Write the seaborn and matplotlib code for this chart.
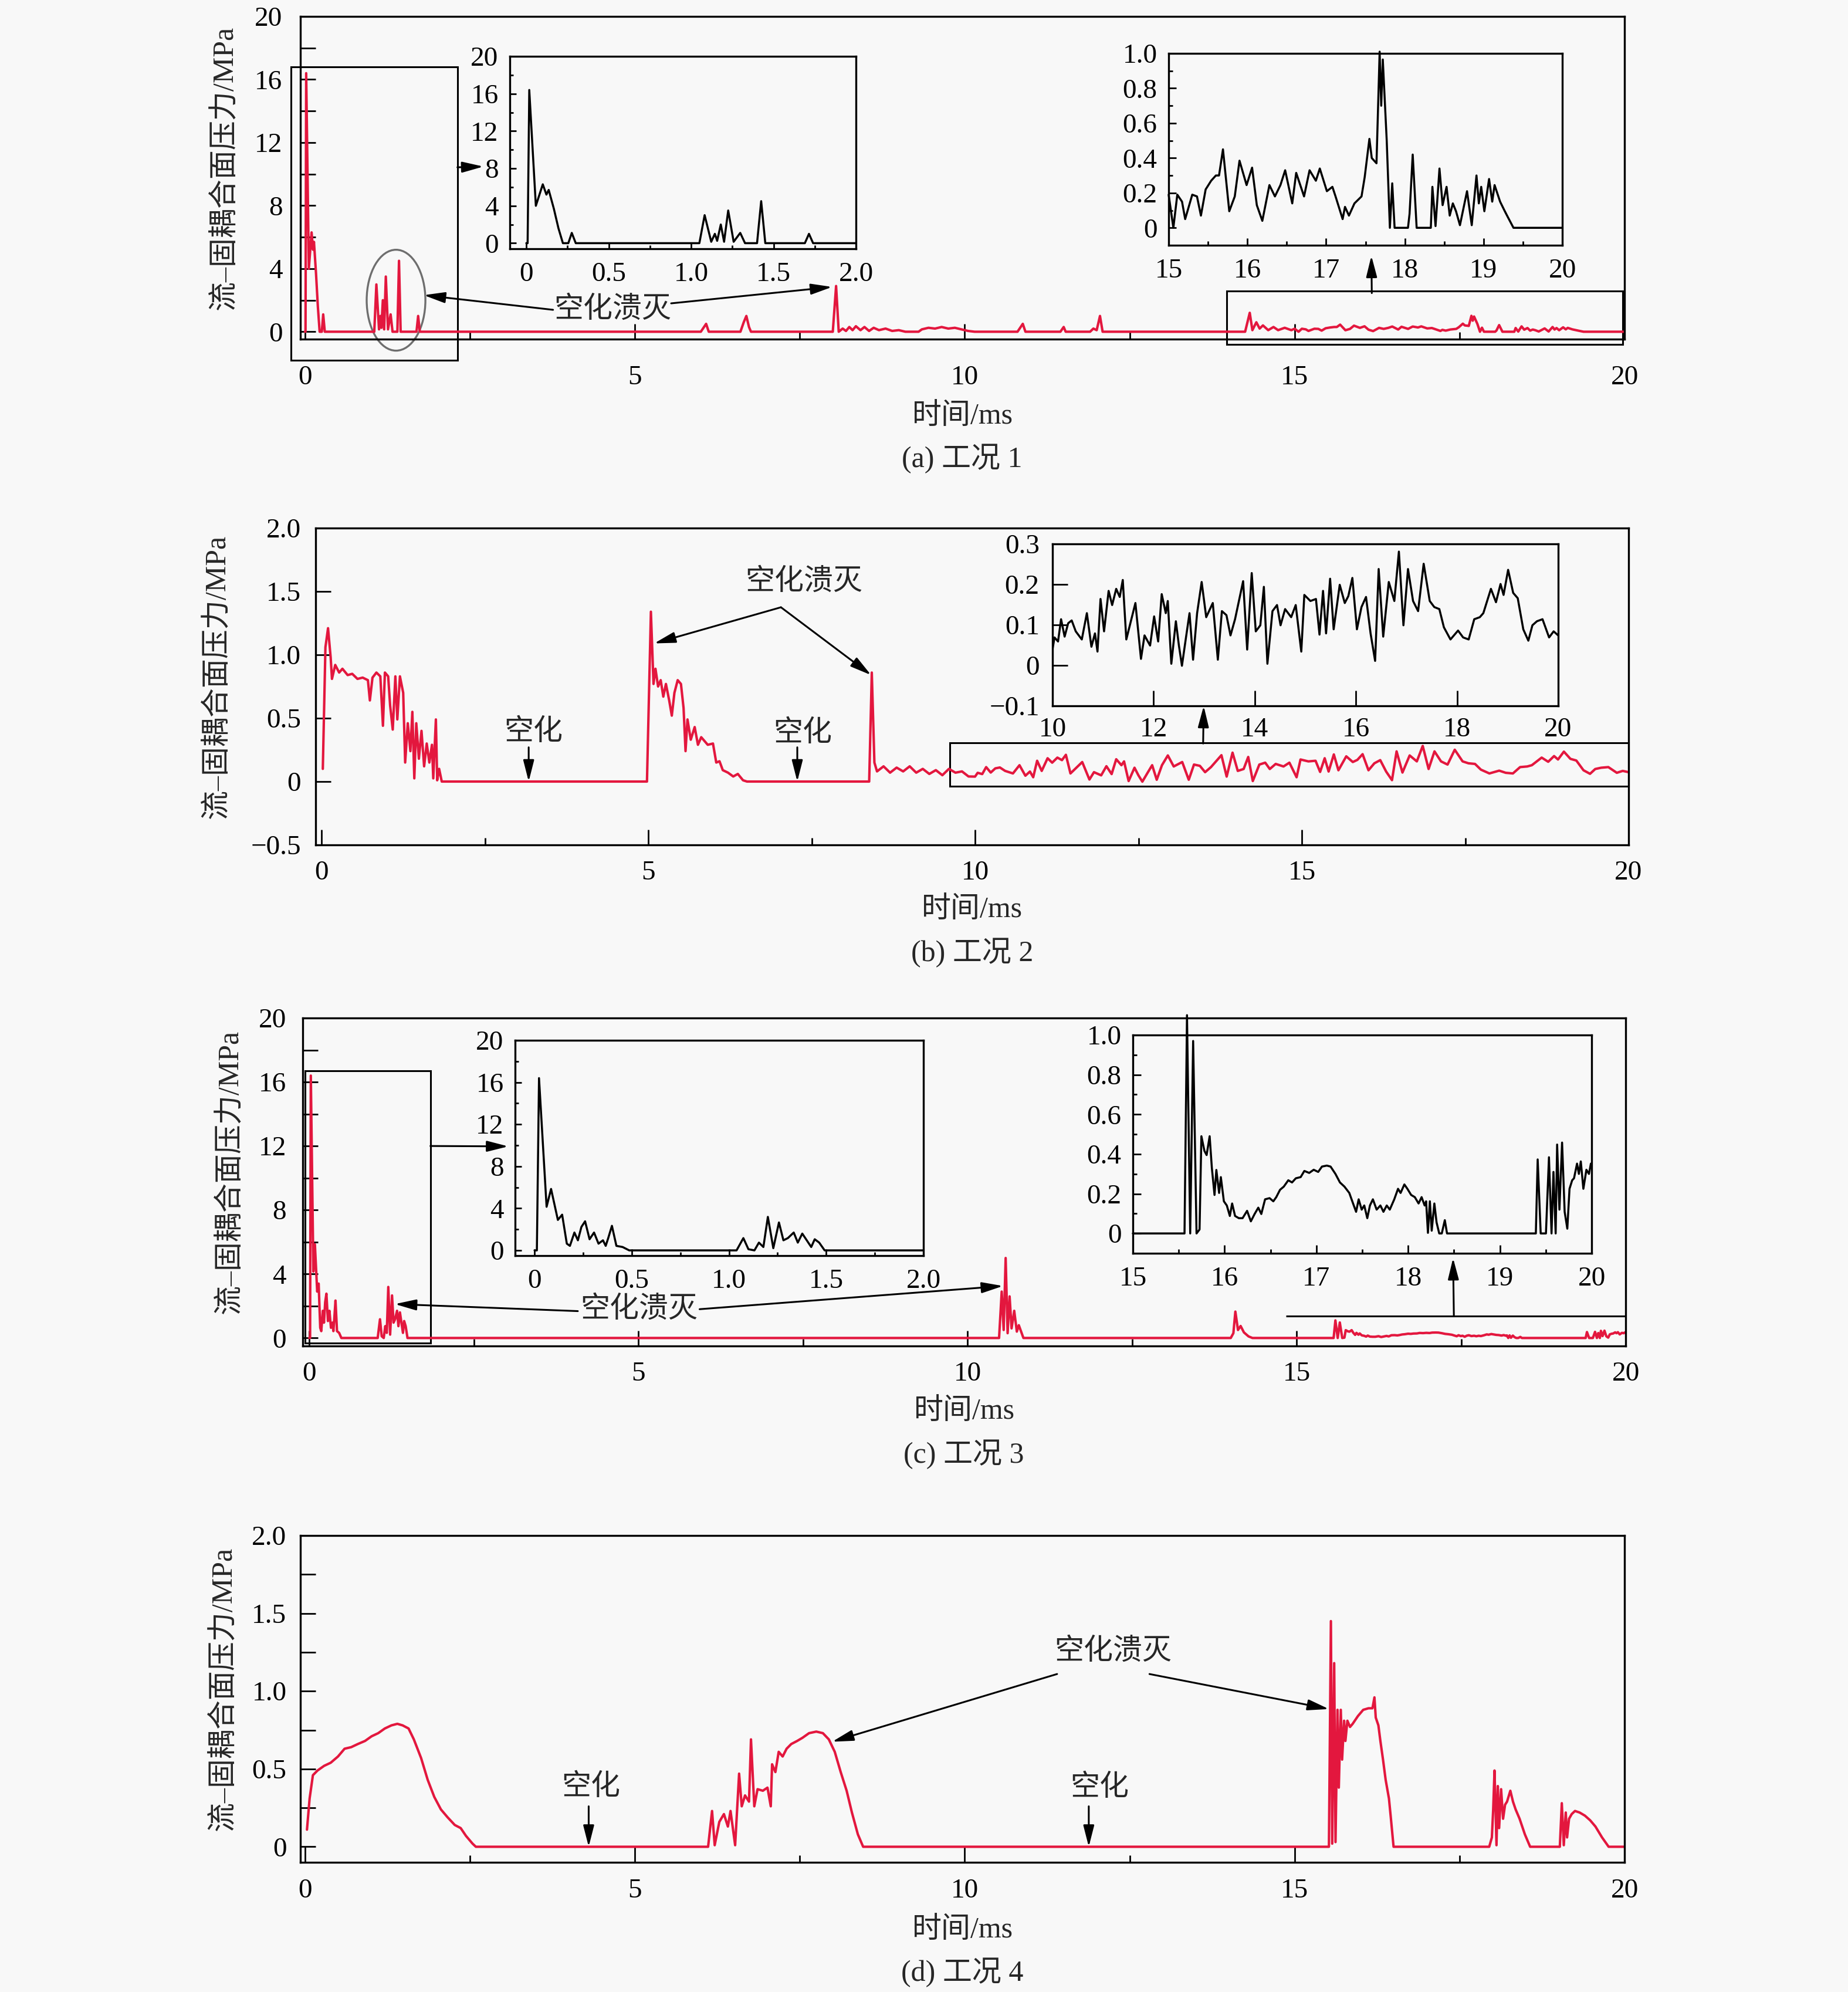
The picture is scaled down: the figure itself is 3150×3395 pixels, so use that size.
import matplotlib
matplotlib.use("Agg")
import matplotlib.pyplot as plt
import pandas as pd
import seaborn as sns
from matplotlib.patches import Rectangle, Ellipse

# ---------------- data (time in ms, pressure in MPa) ----------------
# case 1: zoomed segment 0-2 ms (inset 1)
A_EARLY = [(0.000, 0.0), (0.008, 0.0), (0.018, 16.4), (0.058, 4.0), (0.100, 6.3), (0.122, 5.2),
           (0.136, 5.7), (0.167, 3.7), (0.195, 1.6), (0.222, 0.0), (0.255, 0.0), (0.276, 1.1),
           (0.300, 0.0), (1.050, 0.0), (1.082, 3.0), (1.122, 0.15), (1.144, 1.0), (1.158, 0.25),
           (1.180, 2.0), (1.200, 0.15), (1.225, 3.5), (1.258, 0.15), (1.298, 1.1), (1.327, 0.0),
           (1.400, 0.0), (1.425, 4.5), (1.450, 0.0), (1.690, 0.0), (1.715, 1.0), (1.740, 0.0),
           (2.000, 0.0)]
# case 1: 2-15 ms
A_MID = [(6.00, 0), (6.08, 0.5), (6.12, 0), (6.60, 0), (6.65, 0.6), (6.69, 1.0), (6.73, 0.3),
         (6.76, 0), (8.00, 0), (8.05, 2.9), (8.09, 0), (8.15, 0.2), (8.20, 0.05), (8.25, 0.3),
         (8.30, 0.1), (8.35, 0.35), (8.42, 0.1), (8.48, 0.3), (8.55, 0.05), (8.62, 0.25),
         (8.70, 0.1), (8.80, 0.2), (8.90, 0.05), (9.00, 0.1), (9.10, 0), (9.30, 0), (9.35, 0.15),
         (9.45, 0.25), (9.55, 0.2), (9.65, 0.3), (9.75, 0.2), (9.85, 0.25), (9.95, 0.15),
         (10.05, 0.05), (10.15, 0), (10.80, 0), (10.88, 0.5), (10.92, 0), (11.45, 0), (11.50, 0.3),
         (11.53, 0), (11.90, 0), (11.95, 0.2), (12.00, 0.1), (12.05, 1.0), (12.09, 0), (14.25, 0),
         (14.32, 1.2), (14.36, 0.1), (14.42, 0.6), (14.47, 0.2), (14.52, 0.4), (14.60, 0.1),
         (14.68, 0.3), (14.75, 0.1), (14.85, 0.25), (14.95, 0.1)]
# case 1: zoomed segment 15-20 ms (inset 2)
A_LATE = [(15.00, 0.19), (15.03, 0.095), (15.06, 0.0), (15.11, 0.19), (15.17, 0.15), (15.21, 0.05),
          (15.30, 0.19), (15.36, 0.18), (15.41, 0.07), (15.47, 0.22), (15.54, 0.27), (15.60, 0.30),
          (15.64, 0.30), (15.69, 0.45), (15.77, 0.095), (15.84, 0.18), (15.90, 0.385), (15.99, 0.245),
          (16.06, 0.345), (16.12, 0.13), (16.19, 0.04), (16.28, 0.245), (16.35, 0.18), (16.42, 0.245),
          (16.48, 0.33), (16.57, 0.14), (16.62, 0.315), (16.72, 0.18), (16.79, 0.33), (16.87, 0.27),
          (16.92, 0.34), (17.01, 0.21), (17.08, 0.235), (17.12, 0.18), (17.21, 0.05), (17.24, 0.12),
          (17.29, 0.07), (17.36, 0.14), (17.45, 0.18), (17.49, 0.29), (17.55, 0.51), (17.58, 0.40),
          (17.64, 0.37), (17.68, 1.01), (17.70, 0.70), (17.72, 0.965), (17.77, 0.50), (17.81, 0.0),
          (17.84, 0.255), (17.87, 0.0), (18.04, 0.0), (18.06, 0.08), (18.10, 0.42), (18.15, 0.0),
          (18.33, 0.0), (18.35, 0.235), (18.39, 0.01), (18.44, 0.34), (18.48, 0.13), (18.53, 0.235),
          (18.57, 0.07), (18.61, 0.14), (18.65, 0.095), (18.70, 0.015), (18.79, 0.21), (18.85, 0.015),
          (18.91, 0.30), (18.94, 0.14), (18.97, 0.235), (19.01, 0.095), (19.07, 0.28), (19.11, 0.15),
          (19.14, 0.245), (19.21, 0.15), (19.27, 0.095), (19.31, 0.06), (19.38, 0.0), (20.00, 0.0)]

# case 2: 0-10 ms
B_EARLY = [(0.02, 0.10), (0.06, 1.06), (0.10, 1.21), (0.14, 0.98), (0.16, 0.81), (0.21, 0.92),
           (0.27, 0.86), (0.32, 0.89), (0.40, 0.84), (0.47, 0.85), (0.55, 0.81), (0.63, 0.82),
           (0.71, 0.80), (0.74, 0.64), (0.78, 0.82), (0.84, 0.86), (0.90, 0.83), (0.94, 0.44),
           (0.97, 0.86), (1.02, 0.83), (1.05, 0.60), (1.09, 0.41), (1.13, 0.83), (1.16, 0.49),
           (1.20, 0.83), (1.25, 0.70), (1.28, 0.15), (1.32, 0.46), (1.36, 0.24), (1.39, 0.55),
           (1.42, 0.025), (1.45, 0.46), (1.49, 0.18), (1.53, 0.40), (1.57, 0.12), (1.61, 0.30),
           (1.65, 0.15), (1.69, 0.29), (1.71, 0.025), (1.75, 0.49), (1.77, 0.01), (1.80, 0.10),
           (1.84, 0.0), (4.98, 0.0), (5.04, 1.34), (5.08, 0.77), (5.11, 0.89), (5.15, 0.75),
           (5.19, 0.80), (5.23, 0.67), (5.27, 0.77), (5.32, 0.64), (5.36, 0.52), (5.40, 0.70),
           (5.45, 0.80), (5.50, 0.77), (5.54, 0.58), (5.57, 0.24), (5.60, 0.49), (5.65, 0.33),
           (5.71, 0.43), (5.76, 0.29), (5.81, 0.35), (5.86, 0.32), (5.91, 0.29), (5.99, 0.30),
           (6.04, 0.15), (6.09, 0.16), (6.14, 0.09), (6.22, 0.07), (6.30, 0.04), (6.37, 0.06),
           (6.45, 0.01), (6.51, 0.0), (8.38, 0.0), (8.42, 0.86), (8.46, 0.15), (8.50, 0.08),
           (8.60, 0.12), (8.70, 0.07), (8.80, 0.11), (8.90, 0.08), (9.00, 0.12), (9.10, 0.07),
           (9.20, 0.10), (9.30, 0.06), (9.40, 0.09), (9.50, 0.05), (9.60, 0.10), (9.70, 0.07),
           (9.80, 0.08), (9.90, 0.04)]
# case 2: zoomed segment 10-20 ms (inset)
B_LATE = [(10.00, 0.039), (10.04, 0.069), (10.11, 0.059), (10.17, 0.114), (10.24, 0.071), (10.31, 0.104),
          (10.38, 0.111), (10.46, 0.084), (10.58, 0.064), (10.68, 0.129), (10.77, 0.046), (10.84, 0.079),
          (10.89, 0.034), (10.95, 0.164), (11.02, 0.084), (11.11, 0.184), (11.18, 0.149), (11.26, 0.189),
          (11.33, 0.169), (11.39, 0.211), (11.46, 0.064), (11.55, 0.109), (11.64, 0.154), (11.75, 0.016),
          (11.82, 0.074), (11.93, 0.049), (12.01, 0.121), (12.09, 0.059), (12.16, 0.176), (12.24, 0.129),
          (12.28, 0.159), (12.35, 0.004), (12.44, 0.109), (12.50, 0.049), (12.56, -0.001), (12.64, 0.069),
          (12.71, 0.129), (12.78, 0.014), (12.86, 0.129), (12.95, 0.206), (13.04, 0.119), (13.17, 0.154),
          (13.27, 0.014), (13.35, 0.134), (13.44, 0.124), (13.52, 0.074), (13.61, 0.114), (13.77, 0.208),
          (13.85, 0.039), (13.94, 0.228), (14.02, 0.084), (14.11, 0.099), (14.18, 0.194), (14.25, 0.004),
          (14.35, 0.134), (14.44, 0.149), (14.51, 0.099), (14.60, 0.139), (14.72, 0.119), (14.81, 0.149),
          (14.92, 0.034), (14.98, 0.174), (15.10, 0.159), (15.21, 0.164), (15.28, 0.076), (15.35, 0.184),
          (15.41, 0.079), (15.49, 0.214), (15.56, 0.089), (15.68, 0.199), (15.78, 0.154), (15.85, 0.171),
          (15.93, 0.216), (16.02, 0.089), (16.11, 0.144), (16.20, 0.169), (16.29, 0.079), (16.38, 0.011),
          (16.45, 0.238), (16.54, 0.071), (16.65, 0.206), (16.76, 0.159), (16.85, 0.281), (16.94, 0.099),
          (17.03, 0.238), (17.13, 0.159), (17.23, 0.134), (17.34, 0.251), (17.46, 0.159), (17.55, 0.144),
          (17.65, 0.139), (17.74, 0.094), (17.87, 0.064), (18.02, 0.086), (18.12, 0.069), (18.23, 0.064),
          (18.34, 0.114), (18.45, 0.119), (18.52, 0.129), (18.67, 0.189), (18.77, 0.156), (18.86, 0.201),
          (18.92, 0.174), (19.01, 0.236), (19.11, 0.179), (19.20, 0.166), (19.31, 0.089), (19.41, 0.061),
          (19.49, 0.099), (19.58, 0.109), (19.69, 0.114), (19.82, 0.069), (19.91, 0.084), (20.00, 0.074)]

# case 3: zoomed segment 0-2 ms (inset 1)
C_EARLY = [(0.000, 0.0), (0.012, 0.0), (0.023, 16.4), (0.062, 4.15), (0.085, 5.85), (0.120, 2.9),
           (0.142, 3.4), (0.166, 0.64), (0.182, 0.43), (0.205, 1.7), (0.223, 0.96), (0.241, 2.23),
           (0.260, 2.77), (0.283, 1.06), (0.306, 1.70), (0.329, 0.64), (0.352, 0.96), (0.366, 0.43),
           (0.379, 1.17), (0.398, 2.34), (0.421, 0.43), (0.453, 0.32), (0.487, 0.0), (1.039, 0.0),
           (1.074, 1.17), (1.100, 0.11), (1.131, 0.0), (1.154, 0.74), (1.177, 0.32), (1.200, 3.19),
           (1.228, 0.21), (1.257, 2.66), (1.280, 0.96), (1.303, 1.17), (1.333, 1.70), (1.354, 0.74),
           (1.377, 1.60), (1.400, 0.96), (1.423, 0.32), (1.441, 1.06), (1.464, 0.74), (1.492, 0.0),
           (2.000, 0.0)]
# case 3: 2-15 ms
C_MID = [(10.48, 0), (10.52, 2.9), (10.55, 0.5), (10.58, 5.0), (10.61, 0.3), (10.64, 2.6),
         (10.67, 0.6), (10.71, 1.7), (10.75, 0.4), (10.78, 0.8), (10.85, 0), (14.00, 0),
         (14.04, 0.3), (14.07, 1.65), (14.11, 0.5), (14.15, 0.75), (14.20, 0.35), (14.27, 0.1),
         (14.33, 0)]
# case 3: zoomed segment 15-20 ms (inset 2)
C_LATE = [(15.000, 0.0), (15.563, 0.0), (15.590, 1.10), (15.625, 0.0), (15.657, 0.97), (15.694, 0.0),
          (15.727, 0.02), (15.747, 0.49), (15.780, 0.416), (15.804, 0.395), (15.837, 0.49), (15.861, 0.33),
          (15.890, 0.194), (15.910, 0.32), (15.940, 0.204), (15.959, 0.284), (15.992, 0.162), (16.024, 0.141),
          (16.057, 0.088), (16.082, 0.151), (16.114, 0.088), (16.155, 0.077), (16.196, 0.077), (16.245, 0.114),
          (16.286, 0.061), (16.327, 0.098), (16.367, 0.13), (16.400, 0.098), (16.441, 0.172), (16.490, 0.178),
          (16.531, 0.162), (16.563, 0.183), (16.604, 0.22), (16.645, 0.236), (16.694, 0.268), (16.735, 0.257),
          (16.776, 0.278), (16.829, 0.284), (16.869, 0.315), (16.922, 0.305), (16.971, 0.321), (17.020, 0.31),
          (17.061, 0.337), (17.114, 0.342), (17.155, 0.337), (17.208, 0.30), (17.257, 0.257), (17.306, 0.236),
          (17.359, 0.204), (17.400, 0.151), (17.433, 0.109), (17.461, 0.172), (17.494, 0.12), (17.522, 0.141),
          (17.555, 0.077), (17.584, 0.141), (17.616, 0.172), (17.657, 0.12), (17.698, 0.141), (17.731, 0.109),
          (17.767, 0.141), (17.800, 0.12), (17.849, 0.172), (17.890, 0.225), (17.918, 0.204), (17.959, 0.247),
          (17.992, 0.225), (18.033, 0.194), (18.073, 0.183), (18.114, 0.151), (18.147, 0.183), (18.180, 0.141),
          (18.196, 0.162), (18.216, 0.003), (18.237, 0.162), (18.257, 0.014), (18.286, 0.151), (18.310, 0.056),
          (18.339, 0.0), (18.367, 0.0), (18.400, 0.067), (18.424, 0.0), (19.392, 0.0), (19.412, 0.373),
          (19.445, 0.0), (19.502, 0.0), (19.535, 0.384), (19.563, 0.0), (19.584, 0.31), (19.608, 0.0),
          (19.624, 0.448), (19.649, 0.12), (19.678, 0.458), (19.706, 0.109), (19.735, 0.024), (19.759, 0.225),
          (19.788, 0.268), (19.808, 0.278), (19.841, 0.352), (19.861, 0.30), (19.882, 0.363), (19.910, 0.225),
          (19.943, 0.321), (19.971, 0.30), (19.992, 0.352)]

# case 4: 0-20 ms
D_ALL = [(0.03, 0.11), (0.07, 0.31), (0.12, 0.46), (0.19, 0.49), (0.29, 0.52), (0.39, 0.54),
         (0.50, 0.58), (0.60, 0.63), (0.70, 0.64), (0.80, 0.66), (0.91, 0.68), (1.01, 0.71),
         (1.11, 0.73), (1.21, 0.76), (1.31, 0.78), (1.40, 0.79), (1.48, 0.78), (1.57, 0.76),
         (1.65, 0.69), (1.76, 0.57), (1.86, 0.43), (1.96, 0.32), (2.06, 0.24), (2.16, 0.19),
         (2.27, 0.14), (2.36, 0.12), (2.44, 0.07), (2.54, 0.02), (2.59, 0.0), (6.11, 0.0),
         (6.17, 0.23), (6.21, 0.01), (6.28, 0.16), (6.35, 0.21), (6.41, 0.13), (6.45, 0.23),
         (6.52, 0.01), (6.58, 0.47), (6.62, 0.26), (6.67, 0.33), (6.73, 0.29), (6.76, 0.69),
         (6.81, 0.26), (6.86, 0.37), (6.94, 0.36), (7.01, 0.38), (7.06, 0.26), (7.08, 0.53),
         (7.13, 0.48), (7.18, 0.61), (7.24, 0.58), (7.30, 0.63), (7.37, 0.66), (7.46, 0.68),
         (7.54, 0.70), (7.64, 0.73), (7.75, 0.74), (7.85, 0.73), (7.94, 0.69), (8.03, 0.61),
         (8.12, 0.48), (8.21, 0.36), (8.29, 0.22), (8.38, 0.08), (8.46, 0.0), (15.52, 0.0),
         (15.55, 1.45), (15.57, 0.02), (15.60, 1.18), (15.62, 0.03), (15.65, 0.88), (15.67, 0.38),
         (15.70, 0.88), (15.72, 0.56), (15.75, 0.81), (15.77, 0.68), (15.80, 0.81), (15.84, 0.77),
         (15.88, 0.79), (15.96, 0.84), (16.04, 0.88), (16.12, 0.89), (16.18, 0.89), (16.21, 0.96),
         (16.23, 0.83), (16.27, 0.78), (16.30, 0.68), (16.34, 0.56), (16.38, 0.43), (16.43, 0.31),
         (16.46, 0.18), (16.50, 0.0), (17.95, 0.0), (17.99, 0.06), (18.01, 0.24), (18.03, 0.49),
         (18.06, 0.01), (18.08, 0.39), (18.10, 0.12), (18.13, 0.37), (18.16, 0.18), (18.19, 0.27),
         (18.22, 0.29), (18.27, 0.36), (18.31, 0.29), (18.35, 0.24), (18.41, 0.18), (18.49, 0.08),
         (18.57, 0.0), (19.02, 0.0), (19.05, 0.28), (19.08, 0.01), (19.11, 0.22), (19.13, 0.06),
         (19.16, 0.18), (19.20, 0.21), (19.25, 0.23), (19.32, 0.22), (19.40, 0.20), (19.48, 0.17),
         (19.56, 0.13), (19.66, 0.06), (19.76, 0.0), (20.00, 0.0)]

YLABEL = "流–固耦合面压力/MPa"
XLABEL = "时间/ms"
CAPTIONS = ["(a) 工况 1", "(b) 工况 2", "(c) 工况 3", "(d) 工况 4"]

# ---------------- style ----------------
sns.set_style("ticks")
plt.rcParams["font.family"] = ["Liberation Serif", "Noto Sans CJK SC"]
plt.rcParams["axes.unicode_minus"] = True

W, H = 3150, 3395
BG = "#f8f8f8"
RED = "#e3173e"
FS_TICK = 34
FS_TEXT = 36
LW_MAIN = 3.0
LW_INSET = 2.5
AP = dict(arrowstyle="-|>,head_length=1.1,head_width=0.28", lw=2.2, color="black",
          shrinkA=0, shrinkB=0, mutation_scale=20)

fig = plt.figure(figsize=(W / 100, H / 100), dpi=100, facecolor=BG)


def px_axes(l, r, t, b):
    ax = fig.add_axes([l / W, 1 - b / H, (r - l) / W, (b - t) / H])
    ax.set_facecolor(BG)
    return ax


def draw(ax, pts, color, lw):
    df = pd.DataFrame(pts, columns=["t", "p"])
    sns.lineplot(data=df, x="t", y="p", ax=ax, color=color, lw=lw,
                 estimator=None, sort=False, legend=False)
    ax.set_xlabel("")
    ax.set_ylabel("")
    return ax.lines[-1]


def labels(vals, dec):
    out = []
    for v in vals:
        if abs(v) < 1e-9:
            out.append("0")
        else:
            out.append(f"{v:.{dec}f}".replace("-", "\u2212"))
    return out


def style(ax, xlim, ylim, xmaj, xmin, ymaj, ymin, xdec, ydec, maj_len, xmin_len, ymin_len,
          xpad, ypad, spw=2.4):
    ax.set_xlim(xlim)
    ax.set_ylim(ylim)
    ax.set_xticks(xmaj)
    ax.set_xticklabels(labels(xmaj, xdec))
    ax.set_xticks(xmin, minor=True)
    ax.set_yticks(ymaj)
    ax.set_yticklabels(labels(ymaj, ydec))
    ax.set_yticks(ymin, minor=True)
    ax.tick_params(which="both", direction="in", top=False, right=False, width=2,
                   color="black", labelcolor="black")
    ax.tick_params(axis="x", which="major", length=maj_len, pad=xpad, labelsize=FS_TICK)
    ax.tick_params(axis="x", which="minor", length=xmin_len)
    ax.tick_params(axis="y", which="major", length=maj_len, pad=ypad, labelsize=FS_TICK)
    ax.tick_params(axis="y", which="minor", length=ymin_len)
    for s in ax.spines.values():
        s.set_visible(True)
        s.set_linewidth(spw)
        s.set_color("black")


def main_labels(ax, ylx, xly):
    ax.set_ylabel(YLABEL, fontsize=FS_TEXT)
    ax.yaxis.set_label_coords(ylx, 0.53)
    ax.set_xlabel(XLABEL, fontsize=FS_TEXT)
    ax.xaxis.label.set_va("center")
    ax.xaxis.set_label_coords(0.5, xly)


X_MAJ = [0, 5, 10, 15, 20]
X_MIN = [2.5, 7.5, 12.5, 17.5]

# ================= (a) =================
axA = px_axes(512, 2769, 28, 578)
draw(axA, A_EARLY + A_MID + A_LATE, RED, LW_MAIN)
style(axA, (-0.07, 20), (-0.47, 20), X_MAJ, X_MIN, [0, 4, 8, 12, 16, 20], [2, 6, 10, 14, 18],
      0, 0, 19, 9, 19, 32, 22)
main_labels(axA, -0.0465, -0.24)
fig.text(1640 / W, 1 - 782 / H, CAPTIONS[0], ha="center", va="center", fontsize=FS_TEXT)
axA.add_patch(Rectangle((-0.21, -1.8), 2.52, 18.6, fill=False, ec="black", lw=2.2, clip_on=False))
axA.add_patch(Rectangle((13.97, -0.8), 6.0, 3.38, fill=False, ec="black", lw=2.2, clip_on=False))
axA.add_patch(Ellipse((1.38, 2.0), 0.89, 6.4, fill=False, ec="#6e6e6e", lw=2.4, clip_on=False))
axA.text(4.66, 1.39, "空化溃灭", ha="center", va="center", fontsize=FS_TEXT)
axA.annotate("", xy=(1.80, 2.32), xytext=(3.76, 1.39), arrowprops=AP, annotation_clip=False)
axA.annotate("", xy=(7.99, 2.84), xytext=(5.55, 1.80), arrowprops=AP, annotation_clip=False)

axA1 = px_axes(869, 1459, 96, 424)
draw(axA1, A_EARLY, "black", LW_INSET)
style(axA1, (-0.1, 2.0), (-0.6, 20), [0, 0.5, 1.0, 1.5, 2.0], [0.25, 0.75, 1.25, 1.75],
      [0, 4, 8, 12, 16, 20], [2, 6, 10, 14, 18], 1, 0, 8, 4, 4, 16, 14)
axA1.annotate("", xy=(-0.26, 8.2), xycoords=axA1.transData, xytext=(2.31, 10.43),
              textcoords=axA.transData, arrowprops=AP, annotation_clip=False)

axA2 = px_axes(1992, 2663, 91, 418)
ln = draw(axA2, A_LATE, "black", LW_INSET)
ln.set_clip_on(False)
style(axA2, (15, 20), (-0.1, 1.0), [15, 16, 17, 18, 19, 20], [15.5, 16.5, 17.5, 18.5, 19.5],
      [0, 0.2, 0.4, 0.6, 0.8, 1.0], [0.1, 0.3, 0.5, 0.7, 0.9], 0, 1, 9, 5, 5, 16, 14)
axA2.annotate("", xy=(17.575, -0.16), xycoords=axA2.transData, xytext=(16.17, 2.45),
              textcoords=axA.transData, arrowprops=AP, annotation_clip=False)

# ================= (b) =================
axB = px_axes(538, 2776, 900, 1440)
draw(axB, B_EARLY + B_LATE, RED, LW_MAIN)
style(axB, (-0.09, 20), (-0.5, 2.0), X_MAJ, X_MIN, [-0.5, 0, 0.5, 1.0, 1.5, 2.0], [],
      0, 1, 19, 9, 19, 19, 18)
main_labels(axB, -0.064, -0.205)
fig.text(1657 / W, 1 - 1624 / H, CAPTIONS[1], ha="center", va="center", fontsize=FS_TEXT)
axB.add_patch(Rectangle((9.61, -0.037), 10.39, 0.342, fill=False, ec="black", lw=2.2, clip_on=False))
axB.text(7.38, 1.574, "空化溃灭", ha="center", va="center", fontsize=FS_TEXT)
axB.annotate("", xy=(5.09, 1.09), xytext=(7.03, 1.375), arrowprops=AP)
axB.annotate("", xy=(8.41, 0.84), xytext=(7.03, 1.375), arrowprops=AP)
axB.text(3.24, 0.384, "空化", ha="center", va="center", fontsize=FS_TEXT)
axB.annotate("", xy=(3.17, 0.0), xytext=(3.17, 0.27), arrowprops=AP)
axB.text(7.36, 0.375, "空化", ha="center", va="center", fontsize=FS_TEXT)
axB.annotate("", xy=(7.28, 0.0), xytext=(7.28, 0.27), arrowprops=AP)

axB1 = px_axes(1794, 2656, 927, 1203)
draw(axB1, B_LATE, "black", LW_INSET)
style(axB1, (10, 20), (-0.1, 0.3), [10, 12, 14, 16, 18, 20], [],
      [-0.1, 0, 0.1, 0.2, 0.3], [], 0, 1, 19, 9, 9, 14, 16)
axB1.annotate("", xy=(12.99, -0.1), xycoords=axB1.transData, xytext=(13.49, 0.30),
              textcoords=axB.transData, arrowprops=AP, annotation_clip=False)

# ================= (c) =================
axC = px_axes(516, 2771, 1735, 2294)
draw(axC, C_EARLY + C_MID + C_LATE, RED, LW_MAIN)
style(axC, (-0.1, 20), (-0.5, 20), X_MAJ, X_MIN, [0, 4, 8, 12, 16, 20], [2, 6, 10, 14, 18],
      0, 0, 19, 9, 19, 19, 20)
main_labels(axC, -0.044, -0.2)
fig.text(1643 / W, 1 - 2479 / H, CAPTIONS[2], ha="center", va="center", fontsize=FS_TEXT)
axC.add_patch(Rectangle((-0.06, -0.3), 1.9, 17.0, fill=False, ec="black", lw=2.2, clip_on=False))
axC.hlines(1.38, 14.84, 20, color="black", lw=2.2)
axC.text(5.01, 1.74, "空化溃灭", ha="center", va="center", fontsize=FS_TEXT)
axC.annotate("", xy=(1.30, 2.12), xytext=(4.08, 1.68), arrowprops=AP)
axC.annotate("", xy=(10.54, 3.25), xytext=(5.93, 1.80), arrowprops=AP)

axC1 = px_axes(878, 1574, 1773, 2140)
draw(axC1, C_EARLY, "black", LW_INSET)
style(axC1, (-0.1, 2.0), (-0.5, 20), [0, 0.5, 1.0, 1.5, 2.0], [0.25, 0.75, 1.25, 1.75],
      [0, 4, 8, 12, 16, 20], [2, 6, 10, 14, 18], 1, 0, 8, 4, 4, 16, 14)
axC1.annotate("", xy=(-0.135, 9.9), xycoords=axC1.transData, xytext=(1.84, 12.0),
              textcoords=axC.transData, arrowprops=AP, annotation_clip=False)

axC2 = px_axes(1931, 2713, 1764, 2136)
ln = draw(axC2, C_LATE, "black", LW_INSET)
ln.set_clip_on(False)
style(axC2, (15, 20), (-0.1, 1.0), [15, 16, 17, 18, 19, 20], [15.5, 16.5, 17.5, 18.5, 19.5],
      [0, 0.2, 0.4, 0.6, 0.8, 1.0], [0.1, 0.3, 0.5, 0.7, 0.9], 0, 1, 10, 5, 5, 16, 14)
axC2.annotate("", xy=(18.49, -0.124), xycoords=axC2.transData, xytext=(17.39, 1.38),
              textcoords=axC.transData, arrowprops=AP, annotation_clip=False)

# ================= (d) =================
axD = px_axes(512, 2769, 2617, 3174)
draw(axD, D_ALL, RED, LW_MAIN)
style(axD, (-0.07, 20), (-0.1, 2.0), X_MAJ, X_MIN, [0, 0.5, 1.0, 1.5, 2.0], [0.25, 0.75, 1.25, 1.75],
      0, 1, 19, 9, 19, 20, 17)
main_labels(axD, -0.047, -0.208)
fig.text(1640 / W, 1 - 3362 / H, CAPTIONS[3], ha="center", va="center", fontsize=FS_TEXT)
axD.text(12.25, 1.25, "空化溃灭", ha="center", va="center", fontsize=FS_TEXT)
axD.annotate("", xy=(7.99, 0.675), xytext=(11.40, 1.11), arrowprops=AP)
axD.annotate("", xy=(15.52, 0.885), xytext=(12.80, 1.11), arrowprops=AP)
axD.text(4.33, 0.38, "空化", ha="center", va="center", fontsize=FS_TEXT)
axD.annotate("", xy=(4.30, 0.0), xytext=(4.30, 0.26), arrowprops=AP)
axD.text(12.04, 0.375, "空化", ha="center", va="center", fontsize=FS_TEXT)
axD.annotate("", xy=(11.88, 0.0), xytext=(11.88, 0.26), arrowprops=AP)

fig.savefig("out.png", dpi=100, facecolor=BG)
